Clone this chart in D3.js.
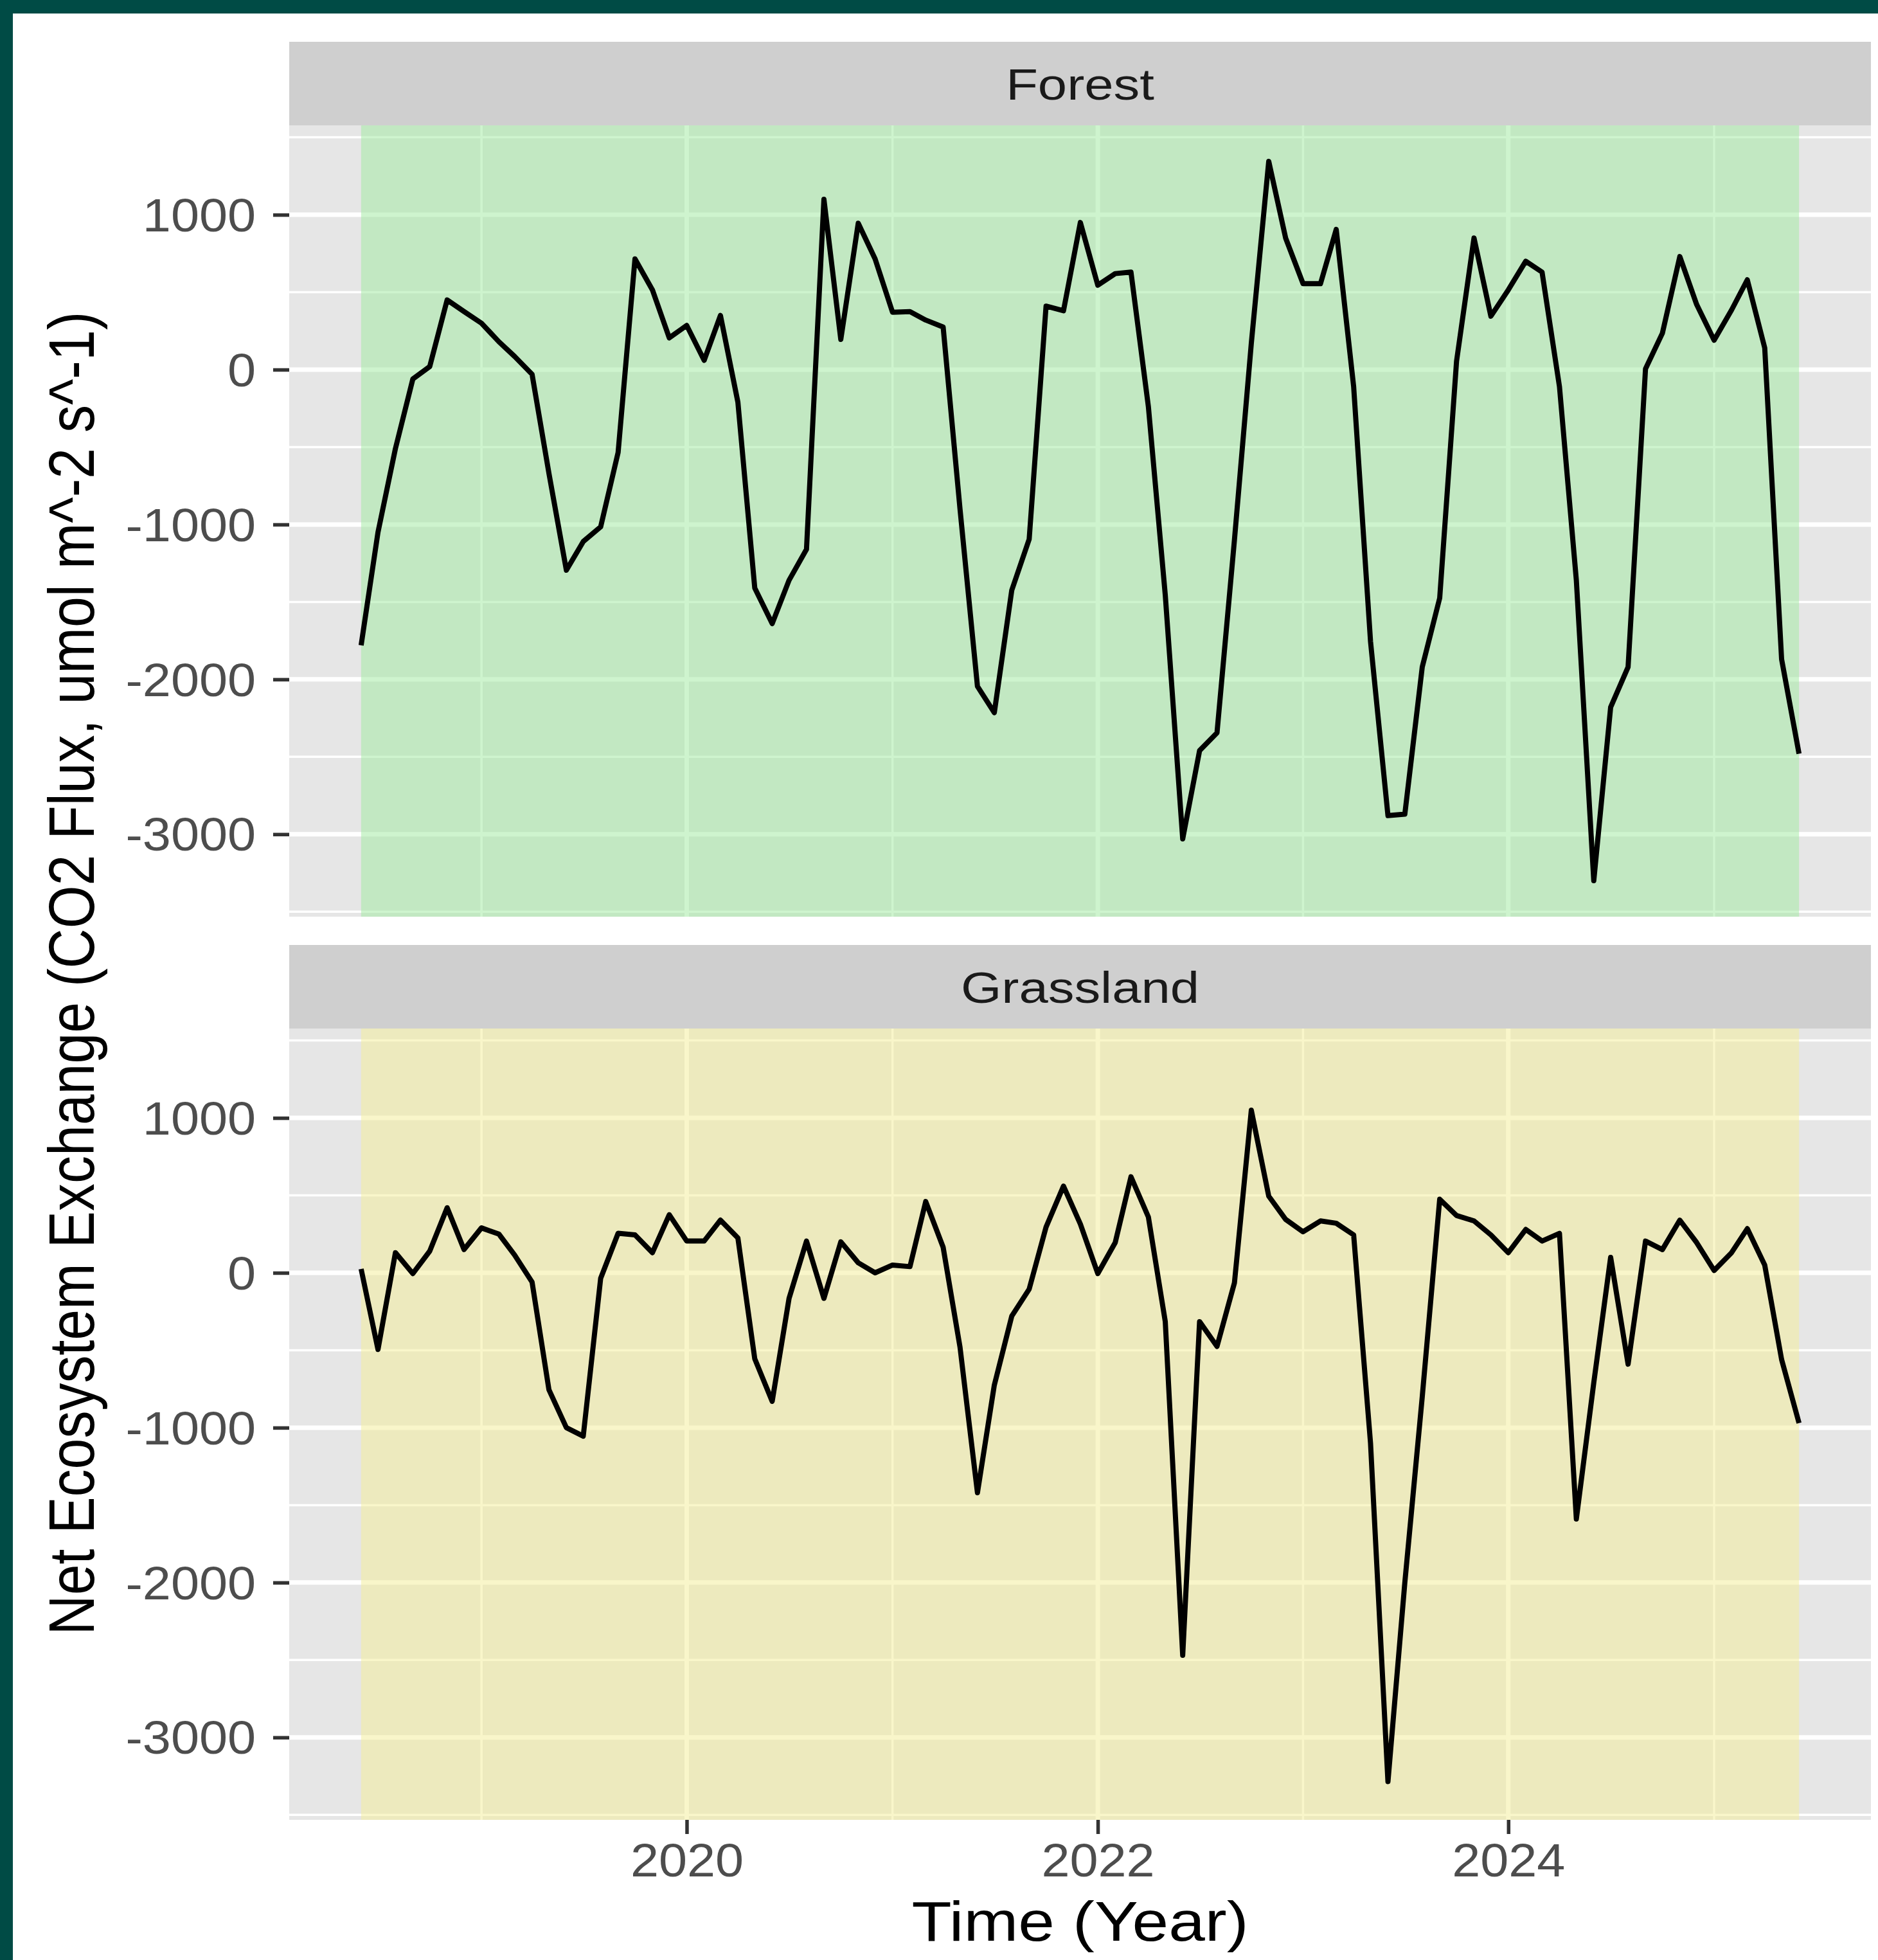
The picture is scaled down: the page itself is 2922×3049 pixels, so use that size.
<!DOCTYPE html>
<html>
<head>
<meta charset="utf-8">
<script src="https://cdn.jsdelivr.net/npm/d3@7"></script>
<style>
  html, body { margin: 0; padding: 0; background: #fff; }
  svg { display: block; }
</style>
</head>
<body>
<div id="chart"></div>
<script>
// monthly NEE values, June 2018 .. June 2025
const firstMonth = new Date(2018, 5, 1);
const lastMonth = new Date(2025, 5, 1);

const facetNames = ["Forest", "Grassland"];

const forestNEE = [
  -1780, -1050, -510, -60, 20, 450, 375,                                    // 2018
  300, 180, 85, -30, -670, -1295, -1110, -1015, -535, 715, 515, 205,          // 2019
  285, 60, 350, -210, -1410, -1640, -1360, -1160, 1100, 195, 945, 715,        // 2020
  370, 375, 320, 275, -900, -2045, -2215, -1425, -1095, 410, 380, 950,        // 2021
  545, 620, 630, -240, -1455, -3030, -2460, -2345, -1100, 170, 1345, 850,     // 2022
  555, 555, 905, -110, -1755, -2880, -2870, -1920, -1475, 55, 850, 345,       // 2023
  515, 700, 630, -110, -1360, -3300, -2180, -1920, 5, 235, 730, 420,          // 2024
  190, 385, 580, 140, -1870, -2480                                           // 2025
];

const grasslandNEE = [
  25, -495, 130, -5, 140, 420, 150,                                         // 2018
  290, 250, 115, -60, -755, -1000, -1055, -35, 255, 245, 130, 375,            // 2019
  205, 205, 340, 225, -555, -830, -165, 205, -165, 200, 65, 0,                // 2020
  50, 40, 460, 165, -480, -1420, -725, -280, -105, 295, 560, 315,             // 2021
  -5, 195, 620, 360, -315, -2470, -315, -475, -65, 1050, 495, 345,            // 2022
  265, 335, 320, 245, -1100, -3285, -2000, -800, 475, 370, 335, 245,          // 2023
  130, 280, 205, 255, -1590, -710, 100, -590, 205, 150, 340, 195,             // 2024
  15, 130, 285, 50, -560, -970                                               // 2025
];

const yMajorTicks = [-3000, -2000, -1000, 0, 1000];
const yMinorTicks = [-3500, -2500, -1500, -500, 500, 1500];
const xMajorYears = [2020, 2022, 2024];
const xMinorYears = [2019, 2021, 2023, 2025];

(function () {

  let width = 2922, height = 3049;
  let panelLeft = 450, panelRight = 2911;
  let stripTops = [65, 1470], stripH = 130, panelH = 1231;
  let font = "'Liberation Sans', Arial, Helvetica, sans-serif";

  let months = d3.timeMonth.range(firstMonth, d3.timeMonth.offset(lastMonth, 1));
  let series = [forestNEE, grasslandNEE];
  let fills = ["#9eea9e", "#f4ee96"];

  let svg = d3.select("#chart")
    .append("svg")
      .attr("width", width)
      .attr("height", height);

  // dark frame behind the white sheet
  svg.append("rect")
      .attr("width", width).attr("height", height)
      .attr("fill", "#004b45");
  svg.append("rect")
      .attr("x", 20).attr("y", 21)
      .attr("width", width - 20).attr("height", height - 21)
      .attr("fill", "#ffffff");

  // x scale with ggplot style 5% expansion
  let pad = (lastMonth - firstMonth) * 0.05;
  let x = d3.scaleTime()
      .domain([new Date(+firstMonth - pad), new Date(+lastMonth + pad)])
      .range([panelLeft, panelRight]);

  let allValues = forestNEE.concat(grasslandNEE);
  let yMin = d3.min(allValues), yMax = d3.max(allValues);
  let yPad = (yMax - yMin) * 0.05;

  facetNames.forEach(function (name, i) {
    let stripTop = stripTops[i];
    let panelTop = stripTop + stripH;

    let y = d3.scaleLinear()
        .domain([yMin - yPad, yMax + yPad])
        .range([panelTop + panelH, panelTop]);

    // strip
    svg.append("rect")
        .attr("x", panelLeft).attr("y", stripTop)
        .attr("width", panelRight - panelLeft).attr("height", stripH)
        .attr("fill", "#cfcfcf");
    svg.append("text")
        .attr("transform", "translate(" + ((panelLeft + panelRight) / 2) + "," + (stripTop + stripH / 2 + 25) + ") scale(1.18,1)")
        .attr("text-anchor", "middle")
        .style("font-family", font)
        .style("font-size", "69px")
        .style("fill", "#1a1a1a")
        .text(name);

    // panel background
    svg.append("rect")
        .attr("x", panelLeft).attr("y", panelTop)
        .attr("width", panelRight - panelLeft).attr("height", panelH)
        .attr("fill", "#e6e6e6");

    let grid = svg.append("g");

    // minor grid
    grid.selectAll(".ymin")
      .data(yMinorTicks)
      .enter().append("line")
        .attr("x1", panelLeft).attr("x2", panelRight)
        .attr("y1", d => y(d)).attr("y2", d => y(d))
        .attr("stroke", "#fff").attr("stroke-width", 3.5);
    grid.selectAll(".xmin")
      .data(xMinorYears)
      .enter().append("line")
        .attr("x1", d => x(new Date(d, 0, 1))).attr("x2", d => x(new Date(d, 0, 1)))
        .attr("y1", panelTop).attr("y2", panelTop + panelH)
        .attr("stroke", "#fff").attr("stroke-width", 3.5);

    // major grid
    grid.selectAll(".ymaj")
      .data(yMajorTicks)
      .enter().append("line")
        .attr("x1", panelLeft).attr("x2", panelRight)
        .attr("y1", d => y(d)).attr("y2", d => y(d))
        .attr("stroke", "#fff").attr("stroke-width", 7);
    grid.selectAll(".xmaj")
      .data(xMajorYears)
      .enter().append("line")
        .attr("x1", d => x(new Date(d, 0, 1))).attr("x2", d => x(new Date(d, 0, 1)))
        .attr("y1", panelTop).attr("y2", panelTop + panelH)
        .attr("stroke", "#fff").attr("stroke-width", 7);

    // shaded period over the data range
    svg.append("rect")
        .attr("x", x(months[0]))
        .attr("y", panelTop)
        .attr("width", x(months[months.length - 1]) - x(months[0]))
        .attr("height", panelH)
        .attr("fill", fills[i])
        .attr("fill-opacity", 0.5);

    // the NEE line
    let line = d3.line()
        .x((d, j) => x(months[j]))
        .y(d => y(d));
    svg.append("path")
        .datum(series[i])
        .attr("d", line)
        .attr("fill", "none")
        .attr("stroke", "#000")
        .attr("stroke-width", 8)
        .attr("stroke-linejoin", "round");

    // y axis (plain hyphen for negatives, as in R)
    let yAxis = svg.append("g")
        .attr("transform", "translate(" + panelLeft + ",0)")
        .call(d3.axisLeft(y).tickValues(yMajorTicks).tickSize(25).tickPadding(27).tickFormat(d => String(d)));
    yAxis.select(".domain").remove();
    yAxis.selectAll(".tick line").attr("stroke", "#333333").attr("stroke-width", 5.5);
    yAxis.selectAll(".tick text")
        .attr("x", -52 / 1.1)
        .attr("dy", "0.35em")
        .attr("transform", "scale(1.1,1)")
        .style("font-family", font)
        .style("font-size", "72px")
        .style("fill", "#4d4d4d");

    // x axis only under the last panel
    if (i === facetNames.length - 1) {
      let xAxis = svg.append("g")
          .attr("transform", "translate(0," + (panelTop + panelH) + ")")
          .call(d3.axisBottom(x)
            .tickValues(xMajorYears.map(d => new Date(d, 0, 1)))
            .tickFormat(d3.timeFormat("%Y"))
            .tickSize(22).tickPadding(15));
      xAxis.select(".domain").remove();
      xAxis.selectAll(".tick line").attr("stroke", "#333333").attr("stroke-width", 5.5);
      xAxis.selectAll(".tick text")
          .attr("transform", "scale(1.1,1)")
          .style("font-family", font)
          .style("font-size", "72px")
          .style("fill", "#4d4d4d");
    }
  });

  // axis titles
  svg.append("text")
      .attr("transform", "translate(" + ((panelLeft + panelRight) / 2) + ",3019) scale(1.17,1)")
      .attr("text-anchor", "middle")
      .style("font-family", font)
      .style("font-size", "87px")
      .style("fill", "#000")
      .text("Time (Year)");

  svg.append("text")
      .attr("transform", "translate(146,1514) scale(1.17,1) rotate(-90)")
      .attr("text-anchor", "middle")
      .style("font-family", font)
      .style("font-size", "86px")
      .style("fill", "#000")
      .text("Net Ecosystem Exchange (CO2 Flux, umol m^-2 s^-1)");

})();
</script>
</body>
</html>
